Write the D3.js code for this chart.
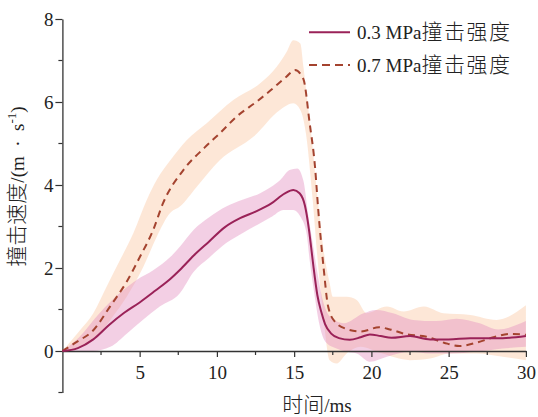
<!DOCTYPE html>
<html>
<head>
<meta charset="utf-8">
<script src="https://cdn.jsdelivr.net/npm/d3@7"></script>
<style>
  html, body { margin: 0; padding: 0; background: #fff; }
  svg { display: block; }
  text { font-family: "Liberation Serif", "Times New Roman", "Noto Sans CJK SC", serif; fill: #222; }
  .cjk { font-family: "Noto Sans CJK SC", sans-serif; font-weight: 300; }
</style>
</head>
<body>
<svg id="chart" width="538" height="417"></svg>
<script>
// Impact velocity (m/s) against time (ms) for two impact pressures.
// Each series: mean curve plus upper/lower envelope of the spread band.

// 0.3 MPa — mean
const t03 = [0, 1, 2, 3, 4, 5, 6, 7, 7.6, 8.5, 9.5, 10.5, 11.5, 12.5, 13.5, 14.4, 14.95, 15.35, 15.7, 15.95, 16.1, 16.25, 16.5, 16.75, 17.0, 17.4, 17.9, 18.6, 19.3, 19.9, 20.6, 21.3, 22.5, 23.8, 25.0, 26.4, 28.5, 30];
const v03 = [0, 0.07, 0.28, 0.62, 0.92, 1.17, 1.45, 1.74, 1.95, 2.3, 2.64, 2.98, 3.2, 3.36, 3.55, 3.8, 3.88, 3.8, 3.5, 2.95, 2.5, 2.03, 1.35, 0.95, 0.65, 0.42, 0.31, 0.27, 0.33, 0.4, 0.36, 0.32, 0.36, 0.28, 0.28, 0.31, 0.31, 0.36];
// 0.3 MPa — band upper edge
const t03Hi = [0, 1.1, 2.4, 3.7, 4.8, 5.9, 7.0, 7.6, 8.5, 9.5, 10.6, 11.7, 12.8, 13.5, 14.1, 14.7, 15.2, 15.6, 15.9, 16.2, 16.5, 16.8, 17.1, 17.4, 18.2, 19.5, 20.3, 21.4, 22.7, 24.2, 25.5, 27.0, 28.2, 30];
const v03Hi = [0, 0.34, 0.91, 1.39, 1.71, 1.95, 2.27, 2.51, 2.92, 3.22, 3.48, 3.65, 3.8, 3.95, 4.12, 4.36, 4.4, 4.1, 3.3, 2.6, 1.9, 1.3, 0.95, 0.8, 0.67, 0.91, 0.99, 0.91, 0.75, 0.72, 0.78, 0.67, 0.52, 0.72];
// 0.3 MPa — band lower edge
const t03Lo = [0, 2.0, 3.1, 4.2, 5.2, 6.3, 7.6, 8.5, 9.5, 10.6, 11.7, 12.8, 13.6, 14.3, 14.95, 15.4, 15.8, 16.0, 16.3, 16.6, 16.9, 17.1, 17.75, 18.4, 19.05, 19.9, 21.0, 22.5, 23.8, 25.1, 26.8, 28.5, 30];
const v03Lo = [0, 0, 0.1, 0.43, 0.75, 1.07, 1.39, 1.91, 2.25, 2.6, 2.85, 3.08, 3.25, 3.4, 3.4, 3.24, 2.84, 2.2, 1.4, 0.7, 0.3, 0.19, 0.06, -0.02, -0.06, -0.26, -0.14, -0.02, -0.06, -0.06, -0.02, 0.06, 0.1];

// 0.7 MPa — mean
const t07 = [0, 0.93, 2.0, 3.08, 4.16, 5.02, 5.88, 6.5, 7.83, 9.2, 10.2, 11.28, 12.58, 13.44, 14.5, 15.05, 15.6, 16.0, 16.35, 16.56, 16.9, 17.2, 17.65, 18.4, 19.3, 20.5, 21.2, 22.3, 23.5, 24.7, 25.7, 26.8, 27.9, 29.0, 30];
const v07 = [0, 0.22, 0.5, 1.07, 1.67, 2.27, 2.92, 3.55, 4.36, 4.9, 5.25, 5.65, 6.01, 6.27, 6.61, 6.77, 6.55, 5.5, 4.44, 3.4, 2.03, 1.07, 0.7, 0.53, 0.47, 0.57, 0.52, 0.4, 0.35, 0.2, 0.12, 0.2, 0.33, 0.41, 0.39];
// 0.7 MPa — band upper edge
const t07Hi = [0, 1.14, 2.0, 2.86, 3.73, 4.59, 5.46, 6.1, 7.0, 8.04, 9.34, 11.06, 12.8, 13.87, 14.5, 14.95, 15.4, 15.6, 15.85, 16.1, 16.6, 17.0, 17.3, 17.5, 18.4, 19.05, 19.7, 21.0, 22.07, 23.4, 24.65, 26.4, 28.1, 30];
const v07Hi = [0, 0.5, 0.91, 1.55, 2.19, 2.84, 3.64, 4.12, 4.6, 5.08, 5.49, 6.05, 6.45, 6.85, 7.2, 7.49, 7.41, 6.85, 6.05, 5.25, 3.4, 2.2, 1.63, 1.31, 1.31, 1.23, 0.91, 1.07, 0.95, 1.07, 0.91, 0.87, 0.75, 1.1];
// 0.7 MPa — band lower edge
const t07Lo = [0, 1.0, 2.43, 3.3, 4.16, 5.24, 6.1, 6.96, 7.6, 8.7, 10.2, 12.36, 14.08, 14.95, 15.4, 15.76, 16.2, 16.56, 16.9, 17.3, 17.75, 18.4, 19.3, 20.6, 22.5, 23.8, 25.1, 26.8, 28.5, 30];
const v07Lo = [0, 0.08, 0.43, 0.85, 1.31, 2.03, 2.75, 3.32, 3.48, 3.96, 4.6, 5.16, 5.81, 5.97, 5.81, 5.25, 3.64, 2.03, 0.8, -0.22, -0.3, -0.06, 0.1, -0.05, -0.22, -0.18, -0.06, -0.06, -0.14, -0.22];

const xTicks = [5, 10, 15, 20, 25, 30];
const xMinorTicks = [2.5, 7.5, 12.5, 17.5, 22.5, 27.5];
const yTicks = [0, 2, 4, 6, 8];
const yMinorTicks = [-1, 1, 3, 5, 7];

const seriesNames = ["0.3 MPa", "0.7 MPa"];
const seriesSuffix = "撞击强度";
const xTitle = ["时间", "/ms"];
const yTitle = ["撞击速度", "/(m\u2002·\u2002s", "-1", ")"];

const svg = d3.select("#chart");

const x = d3.scaleLinear().domain([0, 30]).range([62.4, 525.9]);
const y = d3.scaleLinear().domain([-1, 8]).range([392.5, 19]);

const zip = (ts, vs) => ts.map((t, i) => [t, vs[i]]);

const line = d3.line()
  .x(d => x(d[0]))
  .y(d => y(d[1]))
  .curve(d3.curveMonotoneX);

// Closed outline: upper edge forward, lower edge back
function bandPath(hi, lo) {
  const top = line(hi);
  const bottom = line(lo.slice().reverse()).replace(/^M/, "L");
  return top + bottom + "Z";
}

// Spread bands
svg.append("path")
  .attr("d", bandPath(zip(t07Hi, v07Hi), zip(t07Lo, v07Lo)))
  .attr("fill", "#f9c49b")
  .attr("fill-opacity", 0.4);

svg.append("path")
  .attr("d", bandPath(zip(t03Hi, v03Hi), zip(t03Lo, v03Lo)))
  .attr("fill", "#e38cbf")
  .attr("fill-opacity", 0.42);

// Axes
const axisColor = "#333";

const gx = svg.append("g")
  .attr("transform", `translate(0,${y(0)})`)
  .call(d3.axisBottom(x).tickValues(xTicks).tickSize(6).tickSizeOuter(0).tickPadding(8.5));
gx.append("g").selectAll("line")
  .data(xMinorTicks)
  .join("line")
  .attr("x1", d => x(d)).attr("x2", d => x(d))
  .attr("y1", 0).attr("y2", 4)
  .attr("stroke", axisColor).attr("stroke-width", 1.2);

const gy = svg.append("g")
  .attr("transform", `translate(${x(0)},0)`)
  .call(d3.axisLeft(y).tickValues(yTicks).tickSize(7).tickSizeOuter(0).tickPadding(2));
gy.append("g").selectAll("line")
  .data(yMinorTicks)
  .join("line")
  .attr("x1", 0).attr("x2", -4)
  .attr("y1", d => y(d)).attr("y2", d => y(d))
  .attr("stroke", axisColor).attr("stroke-width", 1.2);

[gx, gy].forEach(g => {
  g.select(".domain").attr("stroke", axisColor).attr("stroke-width", 1.3);
  g.selectAll(".tick line").attr("stroke", axisColor).attr("stroke-width", 1.2);
  g.selectAll(".tick text")
    .attr("fill", "#222")
    .style("font-family", '"Liberation Serif", serif')
    .style("font-size", "19px");
});

// Mean curves
svg.append("path")
  .attr("d", line(zip(t07, v07)))
  .attr("fill", "none")
  .attr("stroke", "#a4432f")
  .attr("stroke-width", 2)
  .attr("stroke-dasharray", "7,5");

svg.append("path")
  .attr("d", line(zip(t03, v03)))
  .attr("fill", "none")
  .attr("stroke", "#9a2258")
  .attr("stroke-width", 2);

// Legend
const legend = [
  { name: seriesNames[0], color: "#9a2258", dash: null, y: 32.3 },
  { name: seriesNames[1], color: "#a4432f", dash: "8,5", y: 65 }
];
legend.forEach(item => {
  svg.append("line")
    .attr("x1", 309).attr("x2", 350)
    .attr("y1", item.y).attr("y2", item.y)
    .attr("stroke", item.color)
    .attr("stroke-width", 2)
    .attr("stroke-dasharray", item.dash);
  const t = svg.append("text")
    .attr("x", 357).attr("y", item.y + 6.5)
    .style("font-size", "19px");
  t.append("tspan").text(item.name);
  t.append("tspan").attr("class", "cjk")
    .style("font-size", "21px")
    .style("letter-spacing", "1.5px")
    .text(seriesSuffix);
});

// Axis titles
const xt = svg.append("text")
  .attr("x", 317).attr("y", 412)
  .attr("text-anchor", "middle")
  .style("font-size", "19px");
xt.append("tspan").attr("class", "cjk").style("font-size", "21px").text(xTitle[0]);
xt.append("tspan").text(xTitle[1]);

const yt = svg.append("text")
  .attr("transform", "translate(24,186.5) rotate(-90)")
  .attr("text-anchor", "middle")
  .style("font-size", "19px");
yt.append("tspan").attr("class", "cjk").style("font-size", "21px").text(yTitle[0]);
yt.append("tspan").style("white-space", "pre").text(yTitle[1]);
yt.append("tspan").attr("dy", -8).style("font-size", "13px").text(yTitle[2]);
yt.append("tspan").attr("dy", 8).text(yTitle[3]);
</script>
</body>
</html>
